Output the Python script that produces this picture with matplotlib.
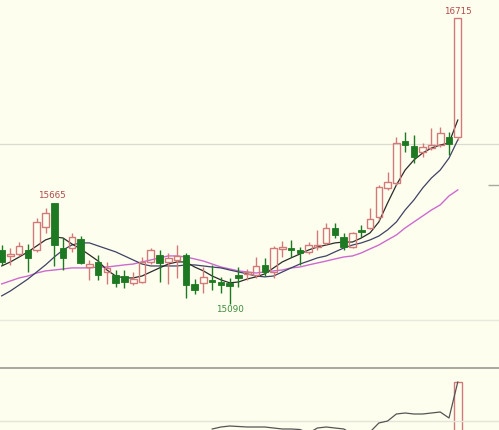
import matplotlib
matplotlib.use('Agg')
import matplotlib.pyplot as plt
import numpy as np

# daily candles (price)
opens = [15398, 15364, 15375, 15398, 15398, 15529, 15665, 15409, 15409, 15460,
         15301, 15330, 15273, 15256, 15250, 15211, 15216, 15330, 15370, 15330,
         15341, 15370, 15205, 15211, 15228, 15216, 15211, 15256, 15262, 15256,
         15313, 15273, 15404, 15409, 15398, 15387, 15415, 15438, 15523, 15472,
         15415, 15512, 15523, 15585, 15750, 15778, 16017, 15989, 15955, 15977,
         15994, 16040, 16040]
closes = [15330, 15375, 15421, 15353, 15557, 15608, 15426, 15353, 15472, 15324,
          15318, 15256, 15296, 15211, 15216, 15233, 15330, 15398, 15324, 15353,
          15364, 15199, 15171, 15245, 15216, 15199, 15193, 15239, 15273, 15307,
          15273, 15409, 15415, 15398, 15381, 15426, 15426, 15523, 15483, 15415,
          15495, 15500, 15574, 15756, 15784, 16006, 15994, 15926, 15983, 15994,
          16062, 16000, 16715]
highs = [15426, 15409, 15443, 15432, 15580, 15637, 15665, 15466, 15495, 15477,
         15341, 15370, 15330, 15284, 15284, 15273, 15358, 15409, 15398, 15381,
         15426, 15381, 15233, 15301, 15313, 15245, 15239, 15301, 15290, 15358,
         15353, 15421, 15449, 15455, 15415, 15443, 15512, 15551, 15551, 15495,
         15500, 15540, 15637, 15767, 15841, 16040, 16068, 16051, 16006, 16091,
         16097, 16068, 16715]
lows = [15313, 15313, 15364, 15273, 15387, 15495, 15307, 15284, 15387, 15318,
        15228, 15228, 15205, 15188, 15182, 15199, 15211, 15318, 15216, 15205,
        15239, 15125, 15148, 15154, 15171, 15154, 15090, 15188, 15228, 15239,
        15250, 15239, 15358, 15358, 15313, 15375, 15398, 15426, 15466, 15398,
        15409, 15472, 15517, 15568, 15739, 15767, 15955, 15892, 15926, 15966,
        15983, 15938, 16023]

# moving averages
ma5 = [15307, 15330, 15358, 15387, 15421, 15455, 15472, 15466, 15432, 15404,
       15370, 15335, 15284, 15250, 15239, 15239, 15250, 15273, 15296, 15318,
       15330, 15330, 15301, 15279, 15250, 15228, 15211, 15216, 15233, 15245,
       15262, 15296, 15330, 15353, 15375, 15398, 15415, 15426, 15438, 15443,
       15443, 15466, 15495, 15557, 15665, 15767, 15852, 15909, 15949, 15977,
       15994, 16006, 16136]
ma10 = [15137, 15165, 15199, 15233, 15273, 15313, 15358, 15398, 15426, 15438,
        15438, 15421, 15404, 15387, 15364, 15341, 15318, 15307, 15307, 15307,
        15307, 15313, 15313, 15307, 15301, 15296, 15284, 15273, 15262, 15250,
        15245, 15250, 15273, 15296, 15318, 15335, 15353, 15364, 15387, 15409,
        15426, 15438, 15455, 15477, 15512, 15557, 15625, 15682, 15750, 15807,
        15852, 15920, 16023]
ma20 = [15205, 15222, 15239, 15250, 15267, 15279, 15284, 15290, 15296, 15296,
        15296, 15301, 15301, 15307, 15313, 15318, 15330, 15341, 15353, 15364,
        15364, 15358, 15347, 15335, 15318, 15301, 15290, 15279, 15273, 15267,
        15273, 15279, 15284, 15296, 15301, 15313, 15324, 15335, 15347, 15358,
        15364, 15381, 15404, 15426, 15455, 15483, 15523, 15557, 15591, 15625,
        15654, 15705, 15739]

# lower panel indicator (only the visible part, from candle 24 on)
sub_start = 24
sub_line = [1, 3, 4, 3.5, 3, 3, 3, 2, 1, 1, 0.5, -3, 2, 3, 2, 1, -4, -5, -2,
            7, 9, 16, 17, 16, 16, 17, 18, 12, 48]
sub_bar = 48

bg = '#fefeee'
up_col = '#d27a7a'
dn_col = '#1d7a22'

x = np.arange(len(opens))
o = np.array(opens)
c = np.array(closes)
h = np.array(highs)
l = np.array(lows)

fig = plt.figure(figsize=(4.99, 4.30), dpi=100)
fig.patch.set_facecolor(bg)
ax = fig.add_axes([0, 63 / 430, 1, 367 / 430])
ax2 = fig.add_axes([0, 0, 1, 63 / 430])
for a in (ax, ax2):
    a.set_facecolor(bg)
    a.set_xticks([])
    a.set_yticks([])
    for s in a.spines.values():
        s.set_visible(False)
    a.set_xlim(-0.19, 56.7)

ax.set_ylim(14733, 16818)
ax2.set_ylim(0, 63)

# grid lines
ax.axhline(16000, color='#dadad0', lw=0.9, zorder=0)
ax.axhline(15000, color='#e8e8dc', lw=1.0, zorder=0)
ax.hlines(15767, 55.4, 56.7, color='#a8a8a0', lw=1.0)
ax2.axhline(62.3, color='#a8a8a0', lw=1.4)
ax2.axhline(9, color='#e4e4d8', lw=1.0)

# moving averages
ax.plot(x, ma20, color='#cc6ad0', lw=1.0, zorder=1)
ax.plot(x, ma10, color='#3e4266', lw=0.9, zorder=1)
ax.plot(x, ma5, color='#2a2a2a', lw=0.9, zorder=1)

# candles
w = 0.75
up = c >= o
dn = ~up
ax.vlines(x[dn], l[dn], h[dn], color=dn_col, lw=1.0, zorder=2)
ax.bar(x[dn], o[dn] - c[dn], bottom=c[dn], width=w, color=dn_col,
       edgecolor=dn_col, lw=0.6, zorder=3)
ax.vlines(x[up], l[up], o[up], color=up_col, lw=1.0, zorder=2)
ax.vlines(x[up], c[up], h[up], color=up_col, lw=1.0, zorder=2)
ax.bar(x[up], c[up] - o[up], bottom=o[up], width=w, facecolor='none',
       edgecolor=up_col, lw=1.0, zorder=3)

# labels
ax.text(5.75, 15705, '15665', color='#b04a4a', fontsize=6.3, ha='center', va='center')
ax.text(52, 16755, '16715', color='#b04a4a', fontsize=6.3, ha='center', va='center')
ax.text(26, 15057, '15090', color='#3c8c3c', fontsize=6.3, ha='center', va='center')

# lower panel
xs = np.arange(sub_start, sub_start + len(sub_line))
ax2.bar(52, sub_bar + 10, bottom=-10, width=0.9, facecolor='none',
        edgecolor=up_col, lw=1.0)
ax2.plot(xs, sub_line, color='#555555', lw=0.9)

fig.savefig('out.png', dpi=100, facecolor=bg)
